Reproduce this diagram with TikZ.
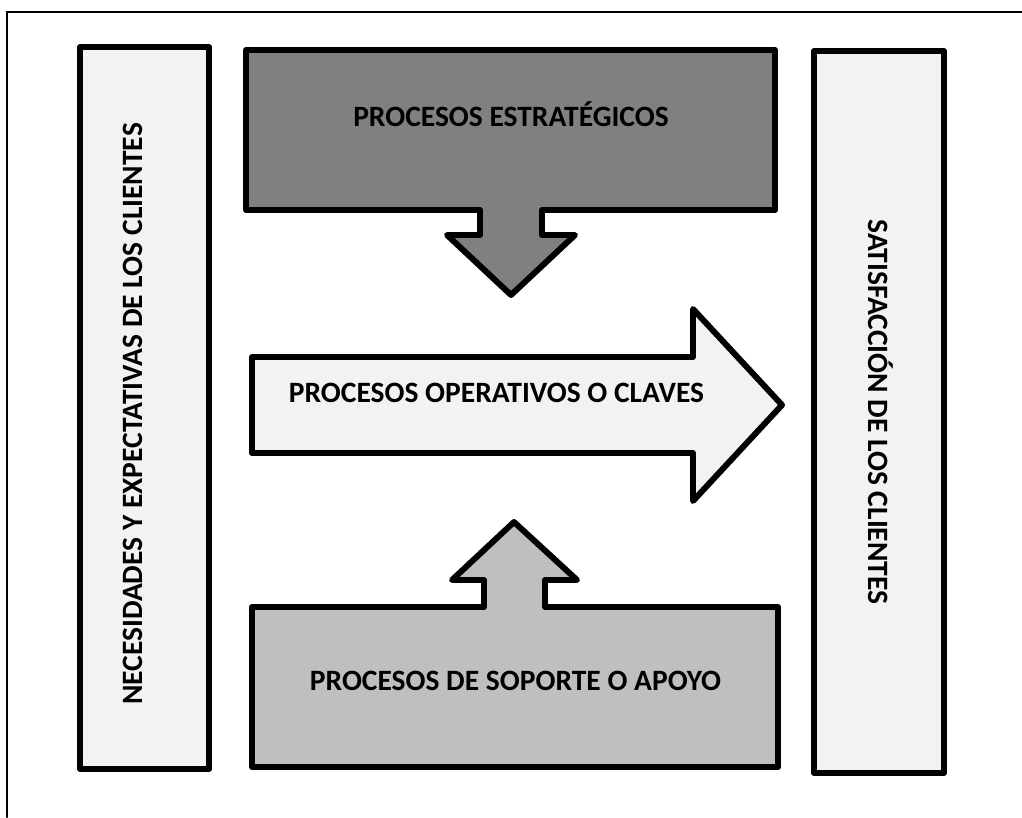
\documentclass[tikz,border=0pt]{standalone}
\usepackage[dvipsnames,svgnames]{xcolor}
\usepackage{tkz-euclide}
\usepackage{fontspec}
\setmainfont{Carlito}
\definecolor{procLight}{HTML}{F2F2F2}
\definecolor{procDark}{HTML}{808080}
\definecolor{procMid}{HTML}{BFBFBF}
\tikzset{proctext/.style={font=\fontsize{8.4}{10}\selectfont\bfseries,inner sep=0pt,anchor=base}}

\begin{document}
\begin{tikzpicture}[scale=1]
 \useasboundingbox (0,0) rectangle (10.22,8.17);
 \tkzSetUpLine[color=black,line width=1.7pt]
 % frame
 \tkzDefPoints{0.07/0/F1, 0.07/8.05/F2, 10.22/8.05/F3}
 \tkzDrawPolySeg[line width=0.7pt](F1,F2,F3)
 % clients boxes
 \tkzDefPoints{0.80/7.70/A, 2.09/7.70/B, 2.09/0.48/C, 0.80/0.48/D}
 \tkzDrawPolygon[fill=procLight](A,B,C,D)
 \tkzDefPoints{8.14/7.66/E, 9.44/7.66/F, 9.44/0.44/G, 8.14/0.44/H}
 \tkzDrawPolygon[fill=procLight](E,F,G,H)
 % strategic processes
 \tkzDefPoints{2.46/7.67/S1, 7.75/7.67/S2, 7.75/6.07/S3, 5.42/6.07/S4, 5.42/5.82/S5,
   5.75/5.82/S6, 5.11/5.22/S7, 4.47/5.82/S8, 4.80/5.82/S9, 4.80/6.07/S10, 2.46/6.07/S11}
 \tkzDrawPolygon[fill=procDark](S1,S2,S3,S4,S5,S6,S7,S8,S9,S10,S11)
 % key processes
 \tkzDefPoints{2.52/4.60/K1, 6.93/4.60/K2, 6.93/5.08/K3, 7.82/4.12/K4, 6.93/3.16/K5,
   6.93/3.64/K6, 2.52/3.64/K7}
 \tkzDrawPolygon[fill=procLight](K1,K2,K3,K4,K5,K6,K7)
 % support processes
 \tkzDefPoints{2.52/2.10/P1, 4.84/2.10/P2, 4.84/2.37/P3, 4.52/2.37/P4, 5.14/2.95/P5,
   5.77/2.37/P6, 5.45/2.37/P7, 5.45/2.10/P8, 7.78/2.10/P9, 7.78/0.50/P10, 2.52/0.50/P11}
 \tkzDrawPolygon[fill=procMid](P1,P2,P3,P4,P5,P6,P7,P8,P9,P10,P11)
 % labels
 \node[proctext] (estrat) at (5.11,6.90) {PROCESOS ESTRATÉGICOS};
 \node[proctext] (claves) at (4.965,4.14) {PROCESOS OPERATIVOS O CLAVES};
 \node[proctext] (apoyo) at (5.155,1.265) {PROCESOS DE SOPORTE O APOYO};
 \node[proctext,rotate=90] (necesid) at (1.42,4.03) {NECESIDADES Y EXPECTATIVAS DE LOS CLIENTES};
 \node[proctext,rotate=-90] (satisf) at (8.68,4.05) {SATISFACCIÓN DE LOS CLIENTES};
\end{tikzpicture}
\end{document}
